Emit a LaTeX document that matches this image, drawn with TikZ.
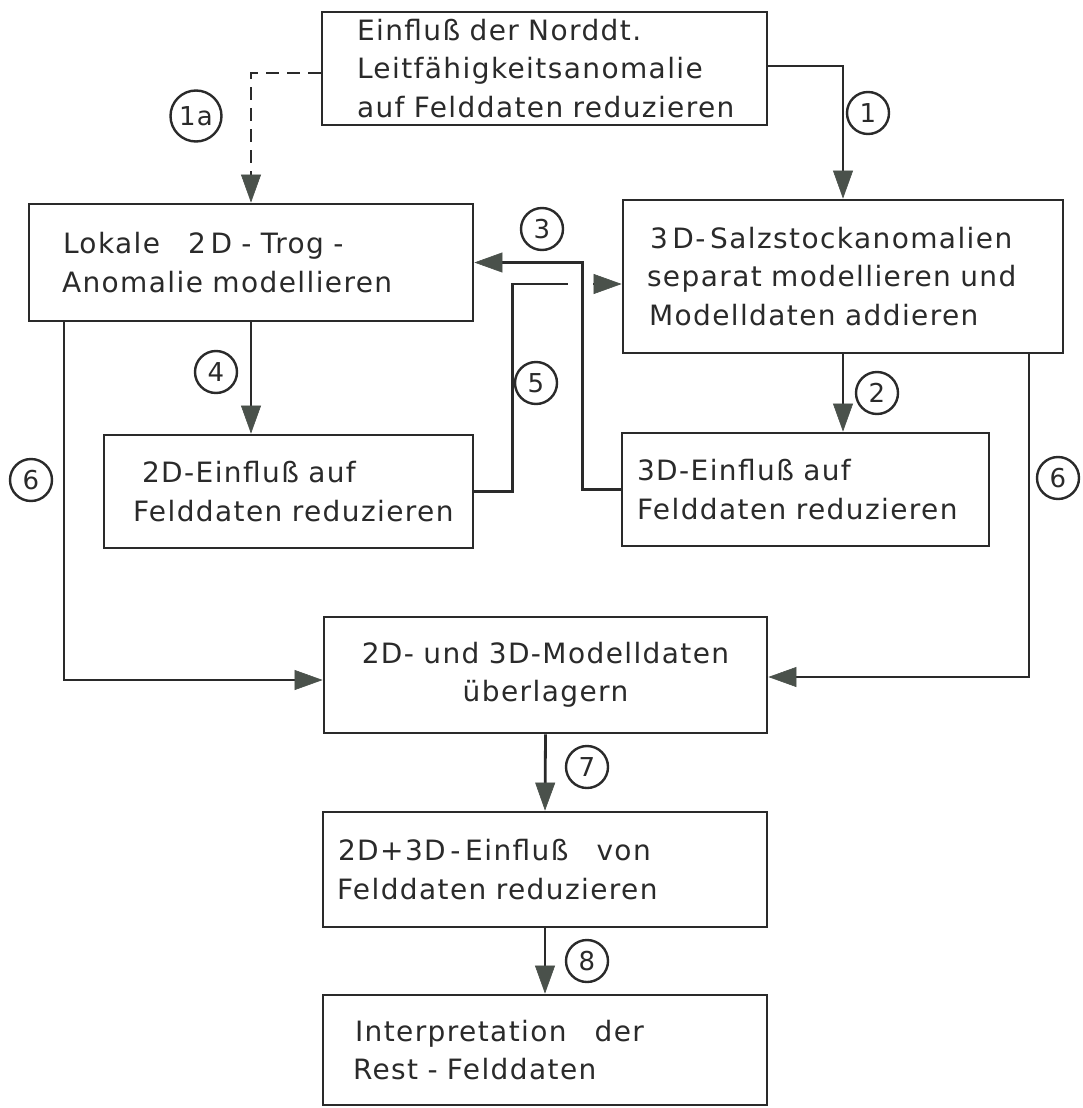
\documentclass[tikz,border=0pt]{standalone}
\usepackage{fontspec}
\setmainfont{DejaVu Sans}[LetterSpace=5.0]
\usetikzlibrary{arrows.meta}
\definecolor{ink}{HTML}{2A2A2A}
\definecolor{tipc}{HTML}{4A514B}
\newcommand\myind[1]{\hspace*{#1pt}}
\begin{document}
\begin{tikzpicture}[x=1pt,y=-1pt,
  box/.style={draw=ink, line width=2.8pt, text=ink, inner xsep=0pt, inner ysep=0pt,
    align=left, font=\fontsize{28}{38.5}\selectfont},
  conn/.style={draw=ink, line width=2.8pt},
  tip/.style={-{Triangle[length=28pt,width=20pt,fill=tipc,color=tipc,line width=0.6pt]}},
  num/.style={circle, draw=ink, line width=2.4pt, minimum size=42pt, inner sep=0pt,
    text=ink, font=\fontsize{26}{26}\selectfont}
]
\path[fill=white, use as bounding box] (0,0) rectangle (1082,1108);

% boxes
\node[box, text width=445pt, minimum height=113pt] (T) at (544.5,68.5)
  {\myind{35}Einfluß der Norddt.\\ \myind{35}\mbox{Leitfähigkeitsanomalie}\\ \myind{35}auf Felddaten reduzieren};
\node[box, text width=444pt, minimum height=117pt] (L) at (251,262.5)
  {\myind{34}Lokale\ \ \ 2\,D - Trog -\\ \myind{33}Anomalie modellieren};
\node[box, text width=440pt, minimum height=153pt] (R) at (843,276.5)
  {\myind{27}3\,D-\,\mbox{Salzstockanomalien}\\ \myind{24}separat modellieren und\\ \myind{26}Modelldaten addieren};
\node[box, text width=369pt, minimum height=113pt] (D2) at (288.5,491.5)
  {\myind{38}2D-Einfluß auf\\ \myind{29}Felddaten reduzieren};
\node[box, text width=367pt, minimum height=113pt] (D3) at (805.5,489.5)
  {\myind{15}3D-Einfluß auf\\ \myind{15}Felddaten reduzieren};
\node[box, text width=443pt, minimum height=116pt, align=center] (M) at (545.5,675)
  {2D- und 3D-Modelldaten\\ überlagern};
\node[box, text width=444pt, minimum height=115pt] (E) at (545,869.5)
  {\myind{15}2D+3D\,-\,Einfluß\quad von\\ \myind{14}Felddaten reduzieren};
\node[box, text width=444pt, minimum height=110pt] (I) at (545,1050)
  {\myind{32}Interpretation\quad der\\ \myind{30}Rest - Felddaten};

% step numbers
\node[num, minimum size=51pt] (n1a) at (196,116) {1a};
\node[num] (n1) at (868,113) {1};
\node[num] (n2) at (877,393) {2};
\node[num] (n3) at (542,229) {3};
\node[num] (n4) at (216,372) {4};
\node[num] (n5) at (536,383) {5};
\node[num] (n6a) at (31,480) {6};
\node[num] (n6b) at (1058,478) {6};
\node[num] (n7) at (587,767) {7};
\node[num] (n8) at (587,961) {8};

% connectors
\draw[conn, tip, dash pattern=on 13pt off 8pt] (T.west |- 0,73) -| (L.north);
\draw[conn, tip] (T.east |- 0,66) -| (R.north);
\draw[conn, tip] (R.south) -- (R.south |- D3.north);
\draw[conn, tip] (D3.west) -- ++(-38,0) |- (L.east);
\coordinate (g1) at (568,284);
\coordinate (g2) at (593,284);
\draw[conn] (D2.east) -- ++(38,0) |- (g1);
\draw[conn, tip] (g2) -- (R.west |- g2);
\draw[conn, tip] (L.south) -- (L.south |- D2.north);
\draw[conn, tip] (L.south west -| 64,0) |- ([yshift=-5pt]M.west);
\draw[conn, tip] (R.south east -| 1029,0) |- ([yshift=-2pt]M.east);
\draw[conn, tip] (M.south) -- (E.north);
\draw[conn, tip] (E.south) -- (I.north);
\end{tikzpicture}
\end{document}
